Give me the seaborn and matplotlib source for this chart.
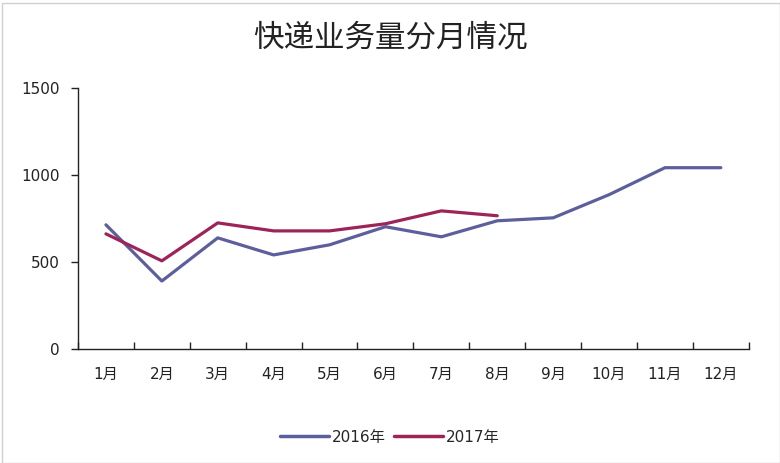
import seaborn as sns
import matplotlib.pyplot as plt
import pandas as pd
import numpy as np

months = ["1月", "2月", "3月", "4月", "5月", "6月", "7月", "8月", "9月", "10月", "11月", "12月"]
vals_2016 = [714, 391, 639, 541, 599, 703, 645, 737, 754, 887, 1042, 1042]
vals_2017 = [662, 507, 725, 679, 679, 720, 794, 766]
years = ["2016年", "2017年"]
colors = ["#5d5f9c", "#9c2459"]

df = pd.concat([
    pd.DataFrame({"month": np.arange(len(vals_2016)), "value": vals_2016, "year": years[0]}),
    pd.DataFrame({"month": np.arange(len(vals_2017)), "value": vals_2017, "year": years[1]}),
], ignore_index=True)

sns.set_theme(style="white")
plt.rcParams["font.family"] = ["DejaVu Sans", "Noto Sans CJK SC"]

fig = plt.figure(figsize=(7.8, 4.63), dpi=100)
ax = fig.add_axes([0.1, 0.246, 0.86, 0.564])

sns.lineplot(data=df, x="month", y="value", hue="year", palette=colors,
             linewidth=2.3, ax=ax, legend=True)

ax.set_xlim(-0.5, 11.5)
ax.set_ylim(0, 1500)
ax.set_yticks([0, 500, 1000, 1500])
ax.set_xticks(np.arange(12))
ax.set_xticklabels(months)
ax.set_xticks(np.arange(-0.5, 12, 1), minor=True)
ax.tick_params(axis="x", which="major", length=0, pad=13, labelsize=11, colors="#222222")
ax.tick_params(axis="x", which="minor", direction="in", length=5, width=1, color="#222222", bottom=True)
ax.tick_params(axis="y", which="major", direction="out", length=5, width=1, color="#222222",
               left=True, pad=8, labelsize=11, labelcolor="#222222")
ax.set_xlabel("")
ax.set_ylabel("")
for s in ["top", "right"]:
    ax.spines[s].set_visible(False)
for s in ["left", "bottom"]:
    ax.spines[s].set_color("#222222")
    ax.spines[s].set_linewidth(1)

fig.text(0.5, 0.918, "快递业务量分月情况", ha="center", va="center", fontsize=22,
         color="#222222", family=["Noto Sans CJK SC", "DejaVu Sans"])

leg = ax.legend(loc="center", bbox_to_anchor=(0.5, 0.056), bbox_transform=fig.transFigure,
                ncol=2, frameon=False, fontsize=11, handlelength=3.2, handletextpad=0.2,
                columnspacing=0.5)
for line in leg.get_lines():
    line.set_linewidth(2.5)

fig.patches.append(plt.Rectangle((0.003, 0.0), 0.997, 0.993, transform=fig.transFigure,
                                 fill=False, edgecolor="#d0d0d0", linewidth=1))

fig.savefig("out.png", dpi=100)
